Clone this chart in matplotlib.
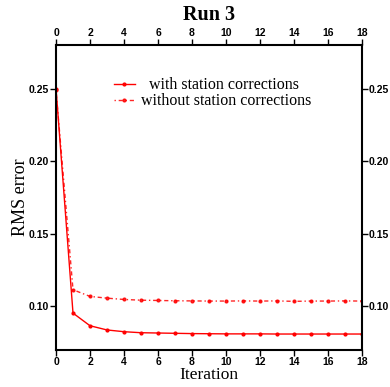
import matplotlib.pyplot as plt

# Werte
iterations = list(range(19))
with_corr = [0.250, 0.0954, 0.0867, 0.0838, 0.0826, 0.0819, 0.0817, 0.0815, 0.0813,
             0.0812, 0.0811, 0.0811, 0.0811, 0.0810, 0.0810, 0.0810, 0.0810, 0.0810, 0.0810]
without_corr = [0.249, 0.1115, 0.1069, 0.1057, 0.1048, 0.1043, 0.1041, 0.1039, 0.1038,
                0.1037, 0.1037, 0.1038, 0.1037, 0.1038, 0.1035, 0.1037, 0.1037, 0.1038, 0.1037]

fig = plt.figure(figsize=(3.9, 3.87), dpi=100)
ax = fig.add_axes([0.1436, 0.0956, 0.7846, 0.7881])

ax.plot(iterations, with_corr, color='red', lw=1.0, marker='o', ms=2,
        label='  with station corrections')
ax.plot(iterations, without_corr, color='red', lw=1.0, marker='o', ms=2, alpha=0.85,
        linestyle=(0, (1, 2, 3, 2)), label='without station corrections')

ax.set_xlim(0, 18)
ax.set_ylim(0.07, 0.28)
ax.set_xticks(range(0, 19, 2))
ax.set_yticks([0.10, 0.15, 0.20, 0.25])
ax.set_yticklabels(['0.10', '0.15', '0.20', '0.25'])

for s in ax.spines.values():
    s.set_linewidth(1.5)
ax.tick_params(direction='out', length=4, width=1, labelsize=7.5, pad=1,
               top=True, right=True, labeltop=True, labelright=True)
for lbl in ax.get_xticklabels() + ax.get_yticklabels():
    lbl.set_family('Liberation Sans')
    lbl.set_fontweight('bold')

ax.set_xlabel('Iteration', family='Liberation Serif', fontsize=12.5, labelpad=0)
ax.set_ylabel('RMS error', family='Liberation Serif', fontsize=13, labelpad=0)
ax.set_title('Run 3', family='Liberation Serif', fontsize=14.5, fontweight='bold', pad=18)

ax.legend(loc='upper center', bbox_to_anchor=(0.512, 0.92), frameon=False,
          prop={'family': 'Liberation Serif', 'size': 11.5}, handlelength=1.3,
          labelspacing=0.0, borderpad=0, handletextpad=0.4)

fig.savefig('out.png', dpi=100)
